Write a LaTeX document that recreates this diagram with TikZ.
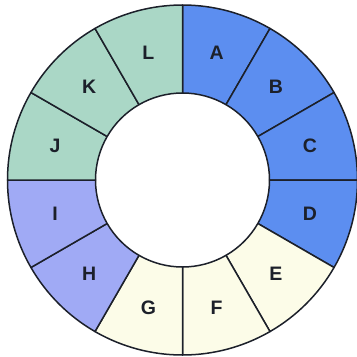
\documentclass[tikz,border=0pt]{standalone}
\usepackage{fontspec}
\setmainfont{Liberation Sans}
\usetikzlibrary{calc}
\definecolor{cblue}{RGB}{92,142,240}
\definecolor{ccream}{RGB}{252,252,232}
\definecolor{clav}{RGB}{160,170,245}
\definecolor{cgreen}{RGB}{170,215,198}
\definecolor{cline}{RGB}{28,32,42}
\begin{document}
\begin{tikzpicture}[x=1pt,y=-1pt,
  seg/.style={draw=cline,line width=1.5pt,line join=round},
  lab/.style={font=\bfseries\fontsize{19.5}{20}\selectfont,text=cline}]
\useasboundingbox (0,0) rectangle (357,357);
\fill[white] (0,0) rectangle (357,357);
\coordinate (O) at (182.5,180);
\def\Ro{175}\def\Ri{87}
\foreach \a/\c/\l in {90/cblue/A,60/cblue/B,30/cblue/C,0/cblue/D,-30/ccream/E,-60/ccream/F,-90/ccream/G,-120/clav/H,-150/clav/I,-180/cgreen/J,-210/cgreen/K,-240/cgreen/L}{
  \pgfmathsetmacro{\b}{\a-30}
  \pgfmathsetmacro{\m}{\a-15}
  \draw[seg,fill=\c] ($(O)+(-\a:\Ro)$) arc[start angle=-\a,end angle=-\b,radius=\Ro]
     -- ($(O)+(-\b:\Ri)$) arc[start angle=-\b,end angle=-\a,radius=\Ri] -- cycle;
  \node[lab] (n\l) at ($(O)+(-\m:132)$) {\l};
}
\end{tikzpicture}
\end{document}
